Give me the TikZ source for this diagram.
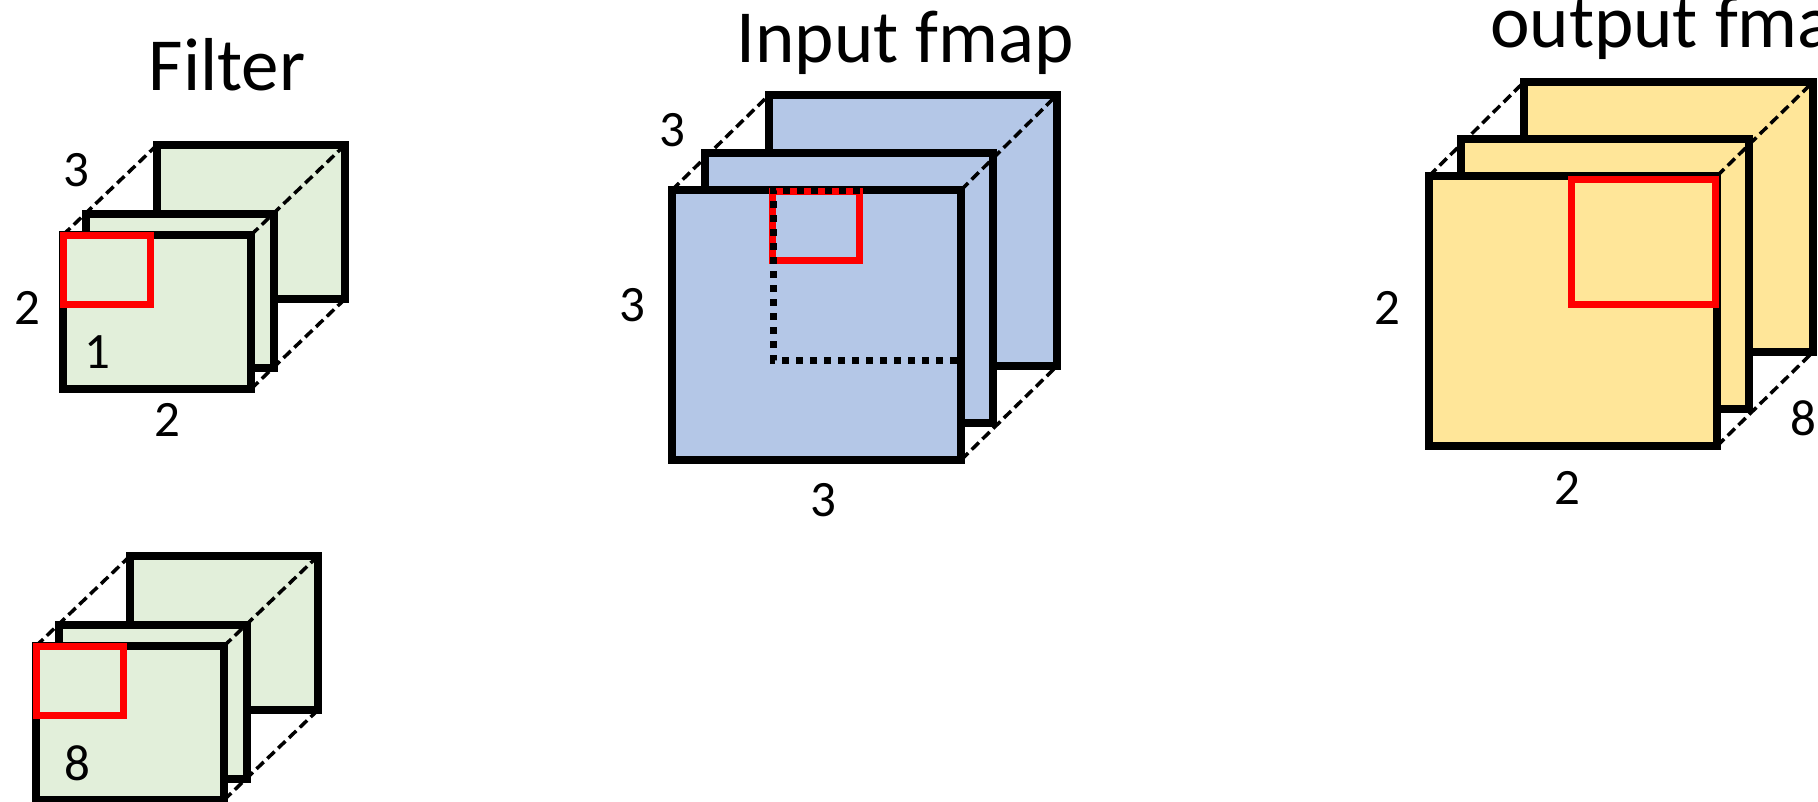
\documentclass[tikz,border=0pt]{standalone}
\usepackage{fontspec}
\setmainfont{Carlito}
\definecolor{fgreen}{HTML}{E2EFDA}
\definecolor{fblue}{HTML}{B4C7E7}
\definecolor{fyellow}{HTML}{FFE699}
\definecolor{fred}{HTML}{FF0000}
\begin{document}
\begin{tikzpicture}[x=1pt,y=-1pt,
  plane/.style={draw=black,line width=7.2pt,line join=miter},
  edge/.style={draw=black,line width=3.5pt,dash pattern=on 10pt off 5pt},
  win/.style={draw=fred,line width=7pt,line join=miter},
  slide/.style={draw=black,line width=7pt,dash pattern=on 7pt off 7pt},
  lbl/.style={font=\fontsize{51}{51}\selectfont,inner sep=0pt},
  ttl/.style={font=\fontsize{75}{75}\selectfont,inner sep=0pt,anchor=base}]
\useasboundingbox[fill=white] (0,0) rectangle (1818,801);

% ---------- Filter 1 ----------
\coordinate (f1bk) at (157,145); \coordinate (f1bkr) at (345,145); \coordinate (f1bkb) at (345,299);
\coordinate (f1fr) at (63,235);  \coordinate (f1frr) at (251,235); \coordinate (f1frb) at (251,389);
\path[plane,fill=fgreen] (f1bk) rectangle (f1bkb);
\path[plane,fill=fgreen] (86,214) rectangle (274,368);
\draw[edge] (f1fr) -- (f1bk);
\draw[edge] (f1frr) -- (f1bkr);
\draw[edge] (f1frb) -- (f1bkb);
\path[plane,fill=fgreen] (f1fr) rectangle (f1frb);
\draw[win] (63,235) rectangle (150,304);
\node[ttl] (ftitle) at (227,90) {Filter};
\node[lbl] (f1c) at (76,170) {3};
\node[lbl] (f1h) at (27,308) {2};
\node[lbl] (f1n) at (97,352) {1};
\node[lbl] (f1w) at (167,420) {2};

% ---------- Filter 2 ----------
\coordinate (f2bk) at (130,556); \coordinate (f2bkr) at (318,556); \coordinate (f2bkb) at (318,710);
\coordinate (f2fr) at (36,646);  \coordinate (f2frr) at (224,646); \coordinate (f2frb) at (224,800);
\path[plane,fill=fgreen] (f2bk) rectangle (f2bkb);
\path[plane,fill=fgreen] (59,625) rectangle (247,779);
\draw[edge] (f2fr) -- (f2bk);
\draw[edge] (f2frr) -- (f2bkr);
\draw[edge] (f2frb) -- (f2bkb);
\path[plane,fill=fgreen] (f2fr) rectangle (f2frb);
\draw[win] (36,646) rectangle (123,715);
\node[lbl] (f2n) at (77,763) {8};

% ---------- Input fmap ----------
\coordinate (ibk) at (769,95); \coordinate (ibkr) at (1057,95); \coordinate (ibkb) at (1057,366);
\coordinate (ifr) at (672,190); \coordinate (ifrr) at (961,190); \coordinate (ifrb) at (961,460);
\path[plane,fill=fblue] (ibk) rectangle (ibkb);
\path[plane,fill=fblue] (705,153) rectangle (993,423);
\draw[edge] (ifr) -- (ibk);
\draw[edge] (ifrr) -- (ibkr);
\draw[edge] (ifrb) -- (ibkb);
\path[plane,fill=fblue] (ifr) rectangle (ifrb);
\draw[win] (772,191) rectangle (859,260);
\draw[slide] (860,190) -- (773,190) -- (773,360) -- (958,360);
\node[ttl] (ititle) at (905,62) {Input fmap};
\node[lbl] (ic) at (672,130) {3};
\node[lbl] (ih) at (632,305) {3};
\node[lbl] (iw) at (823,500) {3};

% ---------- Output fmap ----------
\coordinate (obk) at (1524,82); \coordinate (obkr) at (1813,82); \coordinate (obkb) at (1813,352);
\coordinate (ofr) at (1429,176); \coordinate (ofrr) at (1717,176); \coordinate (ofrb) at (1717,446);
\path[plane,fill=fyellow] (obk) rectangle (obkb);
\path[plane,fill=fyellow] (1461,139) rectangle (1749,409);
\draw[edge] (ofr) -- (obk);
\draw[edge] (ofrr) -- (obkr);
\draw[edge] (ofrb) -- (obkb);
\path[plane,fill=fyellow] (ofr) rectangle (ofrb);
\draw[win] (1571,179) rectangle (1715,304);
\node[ttl,anchor=base west] (otitle) at (1490,47) {output fmap};
\node[lbl] (oh) at (1387,308) {2};
\node[lbl] (ow) at (1567,488) {2};
\node[lbl] (oc) at (1803,418) {8};
\end{tikzpicture}
\end{document}
